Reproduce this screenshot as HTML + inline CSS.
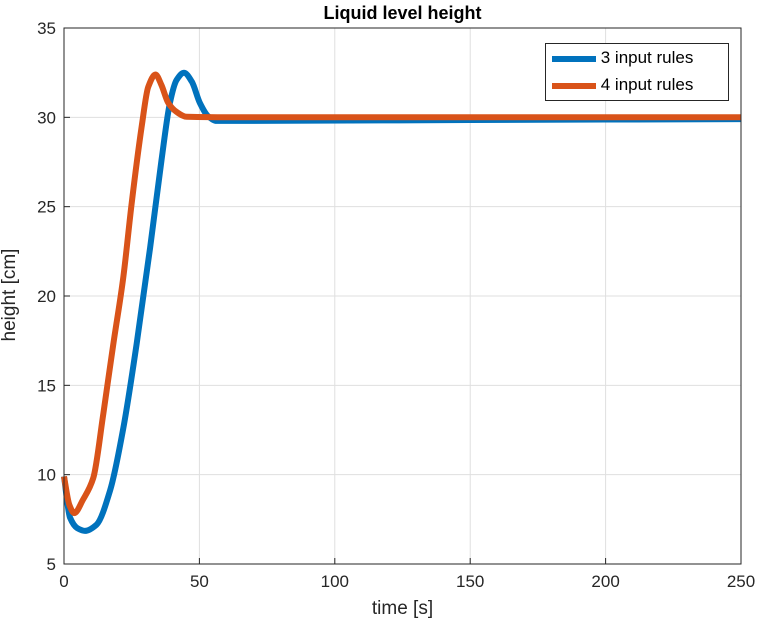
<!DOCTYPE html>
<html><head><meta charset="utf-8"><style>
body{margin:0;background:#fff;}
svg{display:block;font-family:"Liberation Sans",Arial,sans-serif;}
</style></head><body>
<svg id="c" width="761" height="630"></svg>
<script>
const xTicks=[0,50,100,150,200,250];
const yTicks=[5,10,15,20,25,30,35];
const t3=[0,2.2,5,7.7,12,17,21.9,26.8,31.8,36,39.1,41.6,44.3,47.2,50.2,53.3,56.4,70,150,250];
const h3=[9.9,7.6,7.0,6.85,7.2,9.1,12.6,17.3,22.7,27.6,30.8,32.1,32.5,32.0,30.8,30.05,29.8,29.8,29.85,29.9];
const t4=[0,2,3.8,7,10.8,14.5,18.2,21.9,25,28.7,31.1,33.8,36,38.5,41.6,45.3,60,250];
const h4=[9.9,8.3,7.85,8.6,9.8,13.4,17.3,21.05,25.2,29.5,31.7,32.4,31.8,30.8,30.3,30.03,30,30];
const NS='http://www.w3.org/2000/svg';
const svg=document.getElementById('c');
const L=64,R=741,T=28,B=564;
const sx=v=>L+(v-0)/250*(R-L);
const sy=v=>B-(v-5)/30*(B-T);
function mk(tag,attrs,parent){const e=document.createElementNS(NS,tag);for(const k in attrs)e.setAttribute(k,attrs[k]);(parent||svg).appendChild(e);return e;}
mk('rect',{x:L,y:T,width:R-L,height:B-T,fill:'#fff'});
xTicks.forEach(v=>{
 const g=mk('line',{x1:sx(v),x2:sx(v),y1:T,y2:B,stroke:'#dfdfdf','stroke-width':1});
 
 
 mk('line',{x1:sx(v),x2:sx(v),y1:B,y2:B-6,stroke:'#262626'});
 const t=mk('text',{x:sx(v),y:B+23,'text-anchor':'middle','font-size':17,fill:'#262626'});
 t.textContent=v;
 
 
});
yTicks.forEach(v=>{
 const g=mk('line',{x1:L,x2:R,y1:sy(v),y2:sy(v),stroke:'#dfdfdf','stroke-width':1});
 
 
 mk('line',{x1:L,x2:L+6,y1:sy(v),y2:sy(v),stroke:'#262626'});
 const t=mk('text',{x:L-8,y:sy(v)+6,'text-anchor':'end','font-size':17,fill:'#262626'});
 t.textContent=v;
 
 
});
function line(ts,hs,col,name){
 const n=ts.length;
 const m=ts.map((t,i)=>{
  if(i===0)return (hs[1]-hs[0])/(ts[1]-ts[0]);
  if(i===n-1)return (hs[n-1]-hs[n-2])/(ts[n-1]-ts[n-2]);
  const a=(hs[i]-hs[i-1])/(ts[i]-ts[i-1]),b=(hs[i+1]-hs[i])/(ts[i+1]-ts[i]);
  if(a*b<=0)return 0;
  return 2/(1/a+1/b);
 });
 let d='M'+sx(ts[0]).toFixed(1)+','+sy(hs[0]).toFixed(1);
 for(let i=0;i<n-1;i++){
  const dt=(ts[i+1]-ts[i])/3;
  d+='C'+sx(ts[i]+dt).toFixed(1)+','+sy(hs[i]+m[i]*dt).toFixed(1)+' '+sx(ts[i+1]-dt).toFixed(1)+','+sy(hs[i+1]-m[i+1]*dt).toFixed(1)+' '+sx(ts[i+1]).toFixed(1)+','+sy(hs[i+1]).toFixed(1);
 }
 const p=mk('path',{d:d,fill:'none',stroke:col,'stroke-width':6,'stroke-linejoin':'round'});
 
 
}
line(t3,h3,'#0072BD','series-3-input-rules');
line(t4,h4,'#D95319','series-4-input-rules');
mk('rect',{x:L,y:T,width:R-L,height:B-T,fill:'none',stroke:'#262626','stroke-width':1});
</script>
<div style="position:absolute;left:545px;top:43px;width:182px;height:56px;border:1px solid #262626;background:#fff;font-family:'Liberation Sans',Arial,sans-serif;font-size:17px;color:#000;">
 <div style="position:absolute;left:6px;top:4px;"><span style="display:inline-block;width:44px;height:6px;background:#0072BD;vertical-align:middle;"></span> <span>3 input rules</span></div>
 <div style="position:absolute;left:6px;top:31px;"><span style="display:inline-block;width:44px;height:6px;background:#D95319;vertical-align:middle;"></span> <span>4 input rules</span></div>
</div>
<div style="position:absolute;left:64px;width:677px;top:3px;text-align:center;font:bold 18px 'Liberation Sans',Arial,sans-serif;color:#000;">Liquid level height</div>
<div style="position:absolute;left:64px;width:677px;top:598px;text-align:center;font:19px 'Liberation Sans',Arial,sans-serif;color:#262626;">time [s]</div>
<div style="position:absolute;left:-50px;top:284px;width:120px;text-align:center;transform:rotate(-90deg);font:19px 'Liberation Sans',Arial,sans-serif;color:#262626;">height [cm]</div>
</body></html>
